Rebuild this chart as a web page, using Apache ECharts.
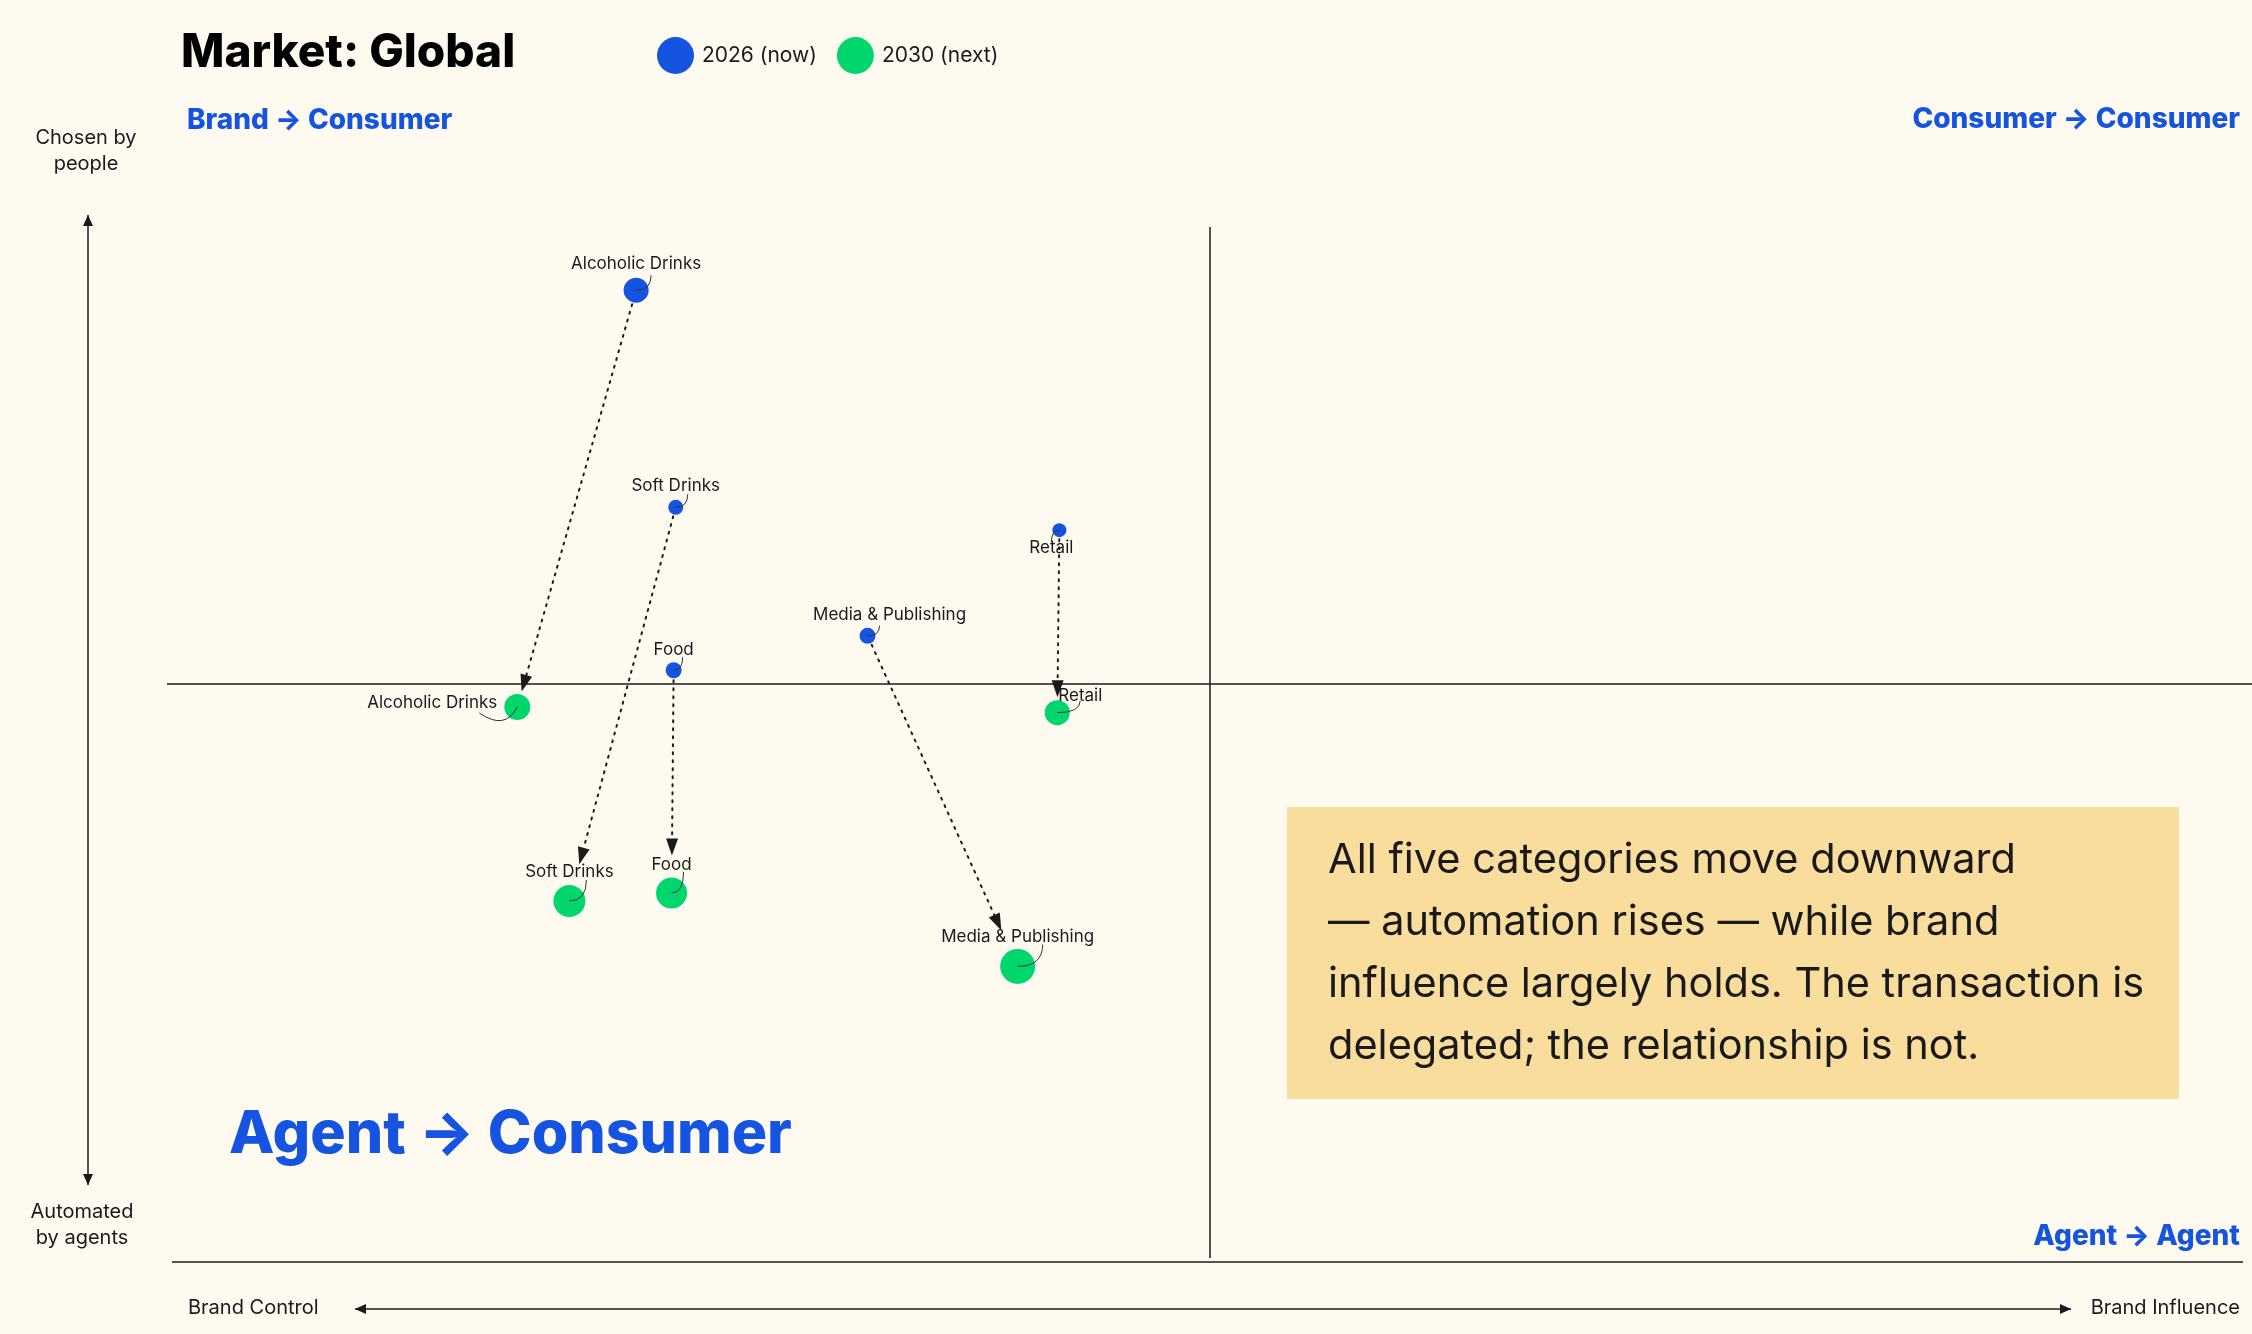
<!DOCTYPE html>
<html>
<head>
<meta charset="utf-8">
<title>Market: Global</title>
<script src="https://cdn.jsdelivr.net/npm/echarts@6/dist/echarts.min.js"></script>
<style>
  html, body { margin: 0; padding: 0; background: #FFFAF0; }
  #main { width: 2252px; height: 1334px; }
</style>
</head>
<body>
<div id="main"></div>
<script>
// x: brand control (0) -> brand influence (100)
// y: automated by agents (0) -> chosen by people (100)
var categories = ['Alcoholic Drinks', 'Soft Drinks', 'Food', 'Media & Publishing', 'Retail'];
var now2026 = [[22.5, 84.3], [24.4, 65.4], [24.3, 51.2], [33.6, 54.2], [42.8, 63.4]];
var next2030 = [[16.8, 48.0], [19.3, 31.1], [24.2, 31.8], [40.8, 25.4], [42.7, 47.5]];
var weight2026 = [25, 15, 16, 16, 14];
var weight2030 = [26, 32, 31, 35, 25];
var seriesNames = ['2026 (now)', '2030 (next)'];

var BLUE = '#1553E1';
var GREEN = '#00D66B';
var INK = '#1A1A1A';
var FONT = 'Inter, "Noto Sans", sans-serif';

// label placement per category
var labels2026 = [
  { position: 'top', distance: 5 },
  { position: 'top', distance: 5 },
  { position: 'top', distance: 4 },
  { position: 'top', distance: 4, offset: [22, 0] },
  { position: 'bottom', distance: 2, offset: [-8, 0] }
];
var labels2030 = [
  { position: 'left', distance: 7, offset: [0, -4] },
  { position: 'top', distance: 5 },
  { position: 'top', distance: 4 },
  { position: 'top', distance: 4 },
  { position: 'top', distance: 4, offset: [23, 8] }
];
// leader curve from bubble centre to label: [dx, dy, optional control dx, control dy] in px
var leaders2026 = [[15, -15], [12, -13], [9, -13], [12, -10], [-8, 12]];
var leaders2030 = [[-38, 6, -12, 24], [17, -21], [12, -21], [25, -22], [23, -12]];

var chart = echarts.init(document.getElementById('main'));

function pointData(points, weights, lbls) {
  return points.map(function (p, i) {
    return { name: categories[i], value: [p[0], p[1], weights[i]], label: lbls[i] };
  });
}

var arrowData = categories.map(function (c, i) {
  var gap = labels2030[i].position === 'top' && !labels2030[i].offset ? 19 : 0;
  return [now2026[i][0], now2026[i][1], next2030[i][0], next2030[i][1], weight2026[i], weight2030[i], gap];
});

function renderArrow(params, api) {
  var a = api.coord([api.value(0), api.value(1)]);
  var b = api.coord([api.value(2), api.value(3)]);
  var r0 = api.value(4) / 2, r1 = api.value(5) / 2, gap = api.value(6);
  var dx = b[0] - a[0], dy = b[1] - a[1];
  var len = Math.sqrt(dx * dx + dy * dy);
  var ux = dx / len, uy = dy / len;
  var s = [a[0] + ux * (r0 + 2), a[1] + uy * (r0 + 2)];
  var tip = [b[0] - ux * (r1 + 3 + gap), b[1] - uy * (r1 + 3 + gap)];
  var head = 17, half = 6;
  var base = [tip[0] - ux * head, tip[1] - uy * head];
  return {
    type: 'group',
    children: [{
      type: 'line',
      shape: { x1: s[0], y1: s[1], x2: base[0], y2: base[1] },
      style: { stroke: INK, lineWidth: 2, lineDash: [2, 6], lineCap: 'round' }
    }, {
      type: 'polygon',
      shape: { points: [tip, [base[0] - uy * half, base[1] + ux * half], [base[0] + uy * half, base[1] - ux * half]] },
      style: { fill: INK }
    }]
  };
}

function leaderSeries(points, offsets) {
  return {
    type: 'custom',
    silent: true,
    z: 4,
    data: points,
    renderItem: function (params, api) {
      var c = api.coord([api.value(0), api.value(1)]);
      var o = offsets[params.dataIndex];
      var e = [c[0] + o[0], c[1] + o[1]];
      var cp = o.length > 2 ? [c[0] + o[2], c[1] + o[3]] : [e[0], c[1]];
      return {
        type: 'bezierCurve',
        shape: { x1: c[0], y1: c[1], x2: e[0], y2: e[1], cpx1: cp[0], cpy1: cp[1] },
        style: { stroke: '#333', lineWidth: 1, fill: null }
      };
    }
  };
}

function txt(text, x, y, size, opts) {
  opts = opts || {};
  return {
    type: 'text', x: x, y: y, silent: true,
    style: {
      text: text, fill: opts.color || INK,
      font: (opts.weight || 'normal') + ' ' + size + 'px ' + FONT,
      align: opts.align || 'left', verticalAlign: 'middle',
      lineHeight: opts.lineHeight
    }
  };
}

function arrowLine(x1, y1, x2, y2) {
  var vertical = x1 === x2;
  var h = 11, w = 5;
  var p1 = vertical ? [[x1, y1], [x1 - w, y1 + h], [x1 + w, y1 + h]] : [[x1, y1], [x1 + h, y1 - w], [x1 + h, y1 + w]];
  var p2 = vertical ? [[x2, y2], [x2 - w, y2 - h], [x2 + w, y2 - h]] : [[x2, y2], [x2 - h, y2 - w], [x2 - h, y2 + w]];
  return [
    { type: 'line', silent: true, shape: { x1: x1, y1: y1, x2: x2, y2: y2 }, style: { stroke: INK, lineWidth: 1.5 } },
    { type: 'polygon', silent: true, shape: { points: p1 }, style: { fill: INK } },
    { type: 'polygon', silent: true, shape: { points: p2 }, style: { fill: INK } }
  ];
}

var labelCommon = {
  show: true, formatter: '{b}', color: INK, fontSize: 17, fontFamily: FONT
};

chart.setOption({
  backgroundColor: '#FFFAF0',
  animation: false,
  title: {
    text: 'Market: Global', left: 181, top: 30, padding: 0,
    textStyle: { fontSize: 46, fontWeight: 800, color: '#000', fontFamily: FONT }
  },
  legend: {
    data: seriesNames, left: 652, top: 32, icon: 'circle',
    itemWidth: 37, itemHeight: 37, itemGap: 20,
    textStyle: { fontSize: 21, color: INK, fontFamily: FONT, padding: [0, 0, 0, 3] }
  },
  grid: { left: 167, right: 0, top: 110, bottom: 76 },
  xAxis: { type: 'value', min: 0, max: 100, show: false },
  yAxis: { type: 'value', min: 0, max: 100, show: false },
  series: [{
    type: 'custom',
    renderItem: renderArrow,
    data: arrowData,
    silent: true,
    z: 1,
    markLine: {
      silent: true, symbol: 'none', label: { show: false },
      lineStyle: { color: INK, width: 1.5, type: 'solid' },
      data: [
        [{ coord: [50, 89.8] }, { coord: [50, 0] }],
        { yAxis: 50 }
      ]
    }
  }, {
    name: seriesNames[0],
    type: 'scatter',
    data: pointData(now2026, weight2026, labels2026),
    symbolSize: function (v) { return v[2]; },
    itemStyle: { color: BLUE, opacity: 1 },
    label: labelCommon,
    z: 3
  }, {
    name: seriesNames[1],
    type: 'scatter',
    data: pointData(next2030, weight2030, labels2030),
    symbolSize: function (v) { return v[2]; },
    itemStyle: { color: GREEN, opacity: 1 },
    label: labelCommon,
    z: 3
  },
  leaderSeries(now2026, leaders2026),
  leaderSeries(next2030, leaders2030)],
  graphic: [
    txt('Brand → Consumer', 187, 121, 28, { weight: 800, color: BLUE }),
    txt('Consumer → Consumer', 2240, 120, 28, { weight: 800, color: BLUE, align: 'right' }),
    txt('Agent → Agent', 2240, 1237, 28, { weight: 800, color: BLUE, align: 'right' }),
    txt('Agent → Consumer', 229, 1135, 59, { weight: 800, color: BLUE }),
    txt('Chosen by\npeople', 86, 151, 20, { align: 'center', lineHeight: 26 }),
    txt('Automated\nby agents', 82, 1225, 20, { align: 'center', lineHeight: 26 }),
    txt('Brand Control', 188, 1308, 20),
    txt('Brand Influence', 2240, 1308, 20, { align: 'right' }),
    { type: 'line', silent: true, shape: { x1: 172, y1: 1262, x2: 2243, y2: 1262 }, style: { stroke: INK, lineWidth: 1.5 } },
    { type: 'rect', silent: true, shape: { x: 1287, y: 807, width: 892, height: 292 }, style: { fill: '#F9DD9D' } },
    txt('All five categories move downward\n— automation rises — while brand\ninfluence largely holds. The transaction is\ndelegated; the relationship is not.',
      1328, 954, 41.5, { lineHeight: 62 })
  ].concat(arrowLine(88, 215, 88, 1185), arrowLine(355, 1309, 2071, 1309))
});
</script>
</body>
</html>
